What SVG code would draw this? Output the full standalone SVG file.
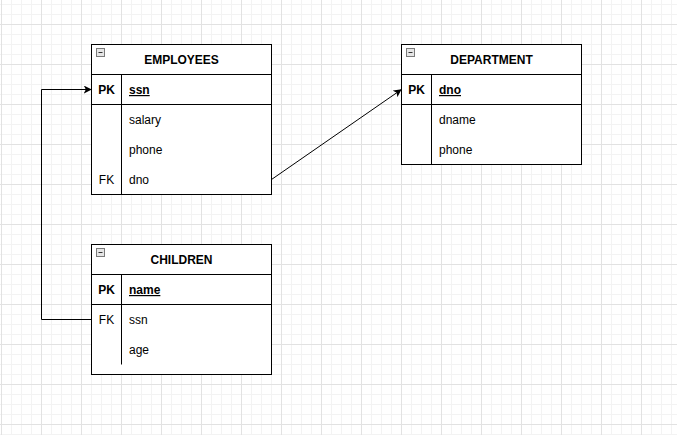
<svg xmlns="http://www.w3.org/2000/svg" width="677" height="435" viewBox="0 0 677 435">
<defs>
<pattern id="minor" x="1" y="4" width="10" height="10" patternUnits="userSpaceOnUse">
<path d="M0.5 0V10M0 0.5H10" stroke="#f3f3f3" stroke-width="1" fill="none"/>
</pattern>
<pattern id="major" x="1" y="24" width="40" height="40" patternUnits="userSpaceOnUse">
<path d="M0.5 0V40M0 0.5H40" stroke="#e2e2e2" stroke-width="1" fill="none"/>
</pattern>
<marker id="arr" viewBox="0 0 10 10" refX="9" refY="5" markerWidth="8" markerHeight="8" markerUnits="userSpaceOnUse" orient="auto">
<path d="M0 0L10 5L0 10L2.5 5Z" fill="#000"/>
</marker>
<style>
.box{fill:#fff;stroke:#000;stroke-width:1}
.ln{stroke:#000;stroke-width:1;fill:none}
.t{font-family:"Liberation Sans",Arial,sans-serif;font-size:12px;fill:#000}
.b{font-weight:bold}
.c{text-anchor:middle}
.u{text-decoration:underline}
.icon{fill:#e6e6e6;stroke:#7a7a7a;stroke-width:1}
.conn{stroke:#000;stroke-width:1;fill:none}
</style>
</defs>
<rect width="677" height="435" fill="#fff"/>
<rect width="677" height="435" fill="url(#minor)"/>
<rect width="677" height="435" fill="url(#major)"/>

<g id="employees">
<rect class="box" x="91.5" y="44.5" width="180" height="150"/>
<line class="ln" x1="91.5" y1="74.5" x2="271.5" y2="74.5"/>
<line class="ln" x1="91.5" y1="104.5" x2="271.5" y2="104.5"/>
<line class="ln" x1="121.5" y1="74.5" x2="121.5" y2="194.5"/>
<rect class="icon" x="96.5" y="48.5" width="8" height="8"/>
<line x1="98.5" y1="52.5" x2="102.5" y2="52.5" stroke="#333"/>
<text class="t b c" x="181.5" y="64">EMPLOYEES</text>
<text class="t b c" x="106.5" y="94">PK</text>
<text class="t b u" x="129" y="94">ssn</text>
<text class="t" x="129" y="124">salary</text>
<text class="t" x="129" y="154">phone</text>
<text class="t c" x="106.5" y="184">FK</text>
<text class="t" x="129" y="184">dno</text>
</g>

<g id="department">
<rect class="box" x="401.5" y="44.5" width="180" height="120"/>
<line class="ln" x1="401.5" y1="74.5" x2="581.5" y2="74.5"/>
<line class="ln" x1="401.5" y1="104.5" x2="581.5" y2="104.5"/>
<line class="ln" x1="431.5" y1="74.5" x2="431.5" y2="164.5"/>
<rect class="icon" x="406.5" y="48.5" width="8" height="8"/>
<line x1="408.5" y1="52.5" x2="412.5" y2="52.5" stroke="#333"/>
<text class="t b c" x="491.5" y="64">DEPARTMENT</text>
<text class="t b c" x="416.5" y="94">PK</text>
<text class="t b u" x="439" y="94">dno</text>
<text class="t" x="439" y="124">dname</text>
<text class="t" x="439" y="154">phone</text>
</g>

<g id="children">
<rect class="box" x="91.5" y="244.5" width="180" height="130"/>
<line class="ln" x1="91.5" y1="274.5" x2="271.5" y2="274.5"/>
<line class="ln" x1="91.5" y1="304.5" x2="271.5" y2="304.5"/>
<line class="ln" x1="121.5" y1="274.5" x2="121.5" y2="364.5"/>
<rect class="icon" x="96.5" y="248.5" width="8" height="8"/>
<line x1="98.5" y1="252.5" x2="102.5" y2="252.5" stroke="#333"/>
<text class="t b c" x="181.5" y="264">CHILDREN</text>
<text class="t b c" x="106.5" y="294">PK</text>
<text class="t b u" x="129" y="294">name</text>
<text class="t c" x="106.5" y="324">FK</text>
<text class="t" x="129" y="324">ssn</text>
<text class="t" x="129" y="354">age</text>
</g>

<g id="connectors">
<path class="conn" d="M91.5 319.5H41.5V89.5H91" marker-end="url(#arr)"/>
<path class="conn" d="M271.5 179.5L401 89.8" marker-end="url(#arr)"/>
</g>
</svg>
